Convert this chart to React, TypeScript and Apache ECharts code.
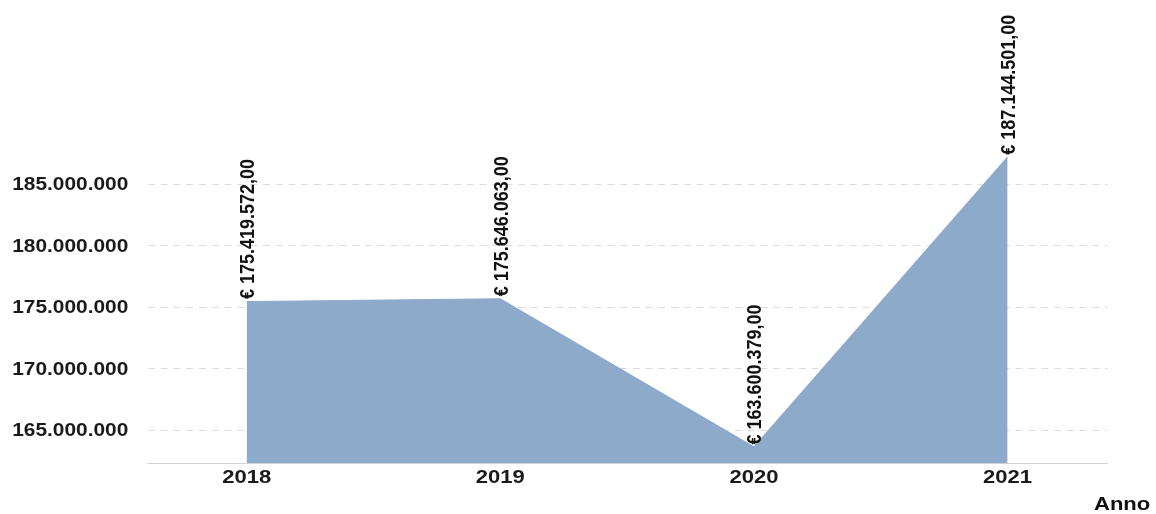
import React, { useEffect, useRef } from "react";
import * as echarts from "echarts";

const years = [2018, 2019, 2020, 2021];
const values = [175419572, 175646063, 163600379, 187144501];
const yTicks = [165000000, 170000000, 175000000, 180000000, 185000000];

const SX = 1.16; // horizontal stretch of the reference picture
const W = 1156 / SX;

function groupThousands(n: number): string {
  const s = Math.round(n).toString();
  return s.replace(/\B(?=(\d{3})+(?!\d))/g, ".");
}

export default function App() {
  const ref = useRef<HTMLDivElement>(null);
  useEffect(() => {
    if (!ref.current) return;
    const chart = echarts.init(ref.current, null, { renderer: "svg" });
    const font = "'Liberation Sans', Arial, sans-serif";
    chart.setOption({
      animation: false,
      grid: { left: 148 / SX, right: 49 / SX, top: 153, bottom: 51 },
      xAxis: {
        type: "value",
        min: 2017.61,
        max: 2021.395,
        splitLine: { show: false },
        axisTick: { show: false },
        axisLine: { show: true, lineStyle: { color: "#cfd3d8", width: 1 } },
        axisLabel: {
          customValues: years,
          formatter: (v: number) => String(v),
          color: "#1a1a1a",
          fontWeight: "bold",
          fontSize: 19,
          fontFamily: font,
          margin: 4,
        },
      },
      yAxis: {
        type: "value",
        min: 162300000,
        max: 187500000,
        axisLine: { show: false },
        axisTick: { show: false, customValues: yTicks },
        axisLabel: {
          customValues: yTicks,
          formatter: (v: number) => groupThousands(v),
          color: "#1a1a1a",
          fontWeight: "bold",
          fontSize: 18,
          fontFamily: font,
          margin: 17,
        },
        splitLine: {
          show: true,
          lineStyle: { color: "#dcdcdc", type: [6, 5], width: 1 },
        },
      },
      series: [
        {
          type: "line",
          data: years.map((y, i) => [y, values[i]]),
          symbol: "circle",
          symbolSize: 1,
          showSymbol: true,
          itemStyle: { color: "rgba(142,170,203,0)", borderWidth: 0 },
          lineStyle: { color: "#8eaacb", width: 1 },
          areaStyle: { color: "#8eaacb", opacity: 1 },
          label: {
            show: true,
            position: "top",
            distance: 2,
            rotate: 90,
            align: "left",
            verticalAlign: "middle",
            color: "#111",
            opacity: 1,
            fontWeight: "bold",
            fontSize: 18,
            fontFamily: font,
            formatter: (p: any) => "€ " + groupThousands(p.value[1]) + ",00",
          },
        },
      ],
      graphic: [
        {
          type: "text",
          left: 1094 / SX,
          top: 494,
          style: {
            text: "Anno",
            fill: "#111",
            font: "bold 19px 'Liberation Sans', Arial, sans-serif",
          },
        },
      ],
    });
    return () => chart.dispose();
  }, []);
  return (
    <div
      style={{
        position: "fixed",
        left: 0,
        top: 0,
        width: 1156,
        height: 514,
        overflow: "hidden",
      }}
    >
      <div
        ref={ref}
        style={{
          width: W,
          height: 514,
          transform: `scaleX(${SX})`,
          transformOrigin: "0 0",
        }}
      />
    </div>
  );
}
